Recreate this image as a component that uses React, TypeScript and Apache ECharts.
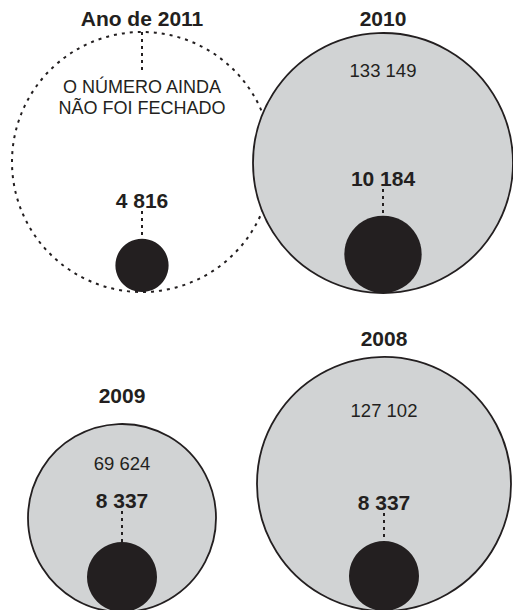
import React, { useEffect, useRef } from "react";
import * as echarts from "echarts";

// ---- data ----
const years = ["2011", "2010", "2009", "2008"];
const titles = ["Ano de 2011", "2010", "2009", "2008"];
const totals: (number | null)[] = [null, 133149, 69624, 127102];
const highlights = [4816, 10184, 8337, 8337];
const pendingNote = ["O NÚMERO AINDA", "NÃO FOI FECHADO"];

// ---- layout (pixel positions of each panel) ----
const W = 513;
const H = 610;
const panels = [
  { cx: 142, cy: 162, titleY: 18, totalY: 0, valueY: 200, noteY: 97.5 },
  { cx: 383, cy: 163, titleY: 18, totalY: 70, valueY: 178, noteY: 0 },
  { cx: 122, cy: 518, titleY: 395, totalY: 463, valueY: 500, noteY: 0 },
  { cx: 384, cy: 484, titleY: 338, totalY: 410, valueY: 502, noteY: 0 },
];
const PLACEHOLDER_R = 130;

const FONT = "'Liberation Sans', Arial, Helvetica, sans-serif";
const INK = "#231f20";
const GREY = "#d1d3d4";

// area-proportional (sqrt) size scales
const maxTotal = 133149;
const outerR = (v: number) => 130 * Math.sqrt(v / maxTotal);
const innerR = (v: number) => 35 * Math.sqrt(v / 8337);

const fmt = (v: number) => String(v).replace(/\B(?=(\d{3})+(?!\d))/g, " ");

export default function App() {
  const ref = useRef<HTMLDivElement>(null);
  useEffect(() => {
    document.body.style.margin = "0";
    if (!ref.current) return;
    const chart = echarts.init(ref.current, null, { renderer: "svg" });

    const outerData: any[] = [];
    const placeholderData: any[] = [];
    const innerData: any[] = [];
    const connectors: any[] = [];
    const labels: any[] = [];

    years.forEach((y, i) => {
      const p = panels[i];
      const t = totals[i];
      const R = t == null ? PLACEHOLDER_R : outerR(t);
      if (t == null) {
        placeholderData.push({ name: y, value: [p.cx, p.cy] });
        connectors.push({ coords: [[p.cx, p.cy - R], [p.cx, 72]] });
      } else {
        outerData.push({ name: y, value: [p.cx, p.cy, t] });
      }
      const h = highlights[i];
      const r = innerR(h);
      const icy = p.cy + R - r;
      innerData.push({ name: y, value: [p.cx, icy, h] });
      connectors.push({ coords: [[p.cx, p.valueY + 11], [p.cx, icy - r]] });

      labels.push({
        value: [p.cx, p.titleY],
        label: { formatter: titles[i], fontSize: 21, fontWeight: "bold" },
      });
      labels.push({
        value: [p.cx, p.valueY],
        label: { formatter: fmt(h), fontSize: 21, fontWeight: "bold" },
      });
      if (t != null) {
        labels.push({
          value: [p.cx, p.totalY],
          label: { formatter: fmt(t), fontSize: 18.5, fontWeight: "normal" },
        });
      } else {
        labels.push({
          value: [p.cx, p.noteY],
          label: {
            formatter: pendingNote.join("\n"),
            fontSize: 18,
            lineHeight: 21,
            fontWeight: "normal",
          },
        });
      }
    });

    chart.setOption({
      animation: false,
      grid: { left: 0, right: 0, top: 0, bottom: 0 },
      xAxis: { type: "value", min: 0, max: W, show: false },
      yAxis: { type: "value", min: 0, max: H, inverse: true, show: false },
      series: [
        {
          type: "scatter",
          z: 1,
          data: placeholderData,
          symbol: "circle",
          symbolSize: PLACEHOLDER_R * 2,
          itemStyle: {
            color: "rgba(255,255,255,0)",
            borderColor: INK,
            borderWidth: 2,
            borderType: [3, 5],
            opacity: 1,
          },
          silent: true,
        },
        {
          type: "scatter",
          z: 2,
          data: outerData,
          symbol: "circle",
          symbolSize: (val: number[]) => outerR(val[2]) * 2,
          itemStyle: { color: GREY, borderColor: INK, borderWidth: 1.8, opacity: 1 },
          silent: true,
        },
        {
          type: "lines",
          z: 3,
          coordinateSystem: "cartesian2d",
          data: connectors,
          lineStyle: { color: INK, width: 2, type: [3, 4], opacity: 1 },
          silent: true,
        },
        {
          type: "scatter",
          z: 4,
          data: innerData,
          symbol: "circle",
          symbolSize: (val: number[]) => innerR(val[2]) * 2,
          itemStyle: { color: INK, opacity: 1 },
          silent: true,
        },
        {
          type: "scatter",
          z: 5,
          data: labels,
          symbolSize: 0,
          itemStyle: { opacity: 1, color: INK },
          label: {
            show: true,
            position: "inside",
            color: INK,
            opacity: 1,
            fontFamily: FONT,
          },
          silent: true,
        },
      ],
    });
    return () => chart.dispose();
  }, []);
  return <div ref={ref} style={{ width: W, height: H, background: "#fff" }} />;
}
